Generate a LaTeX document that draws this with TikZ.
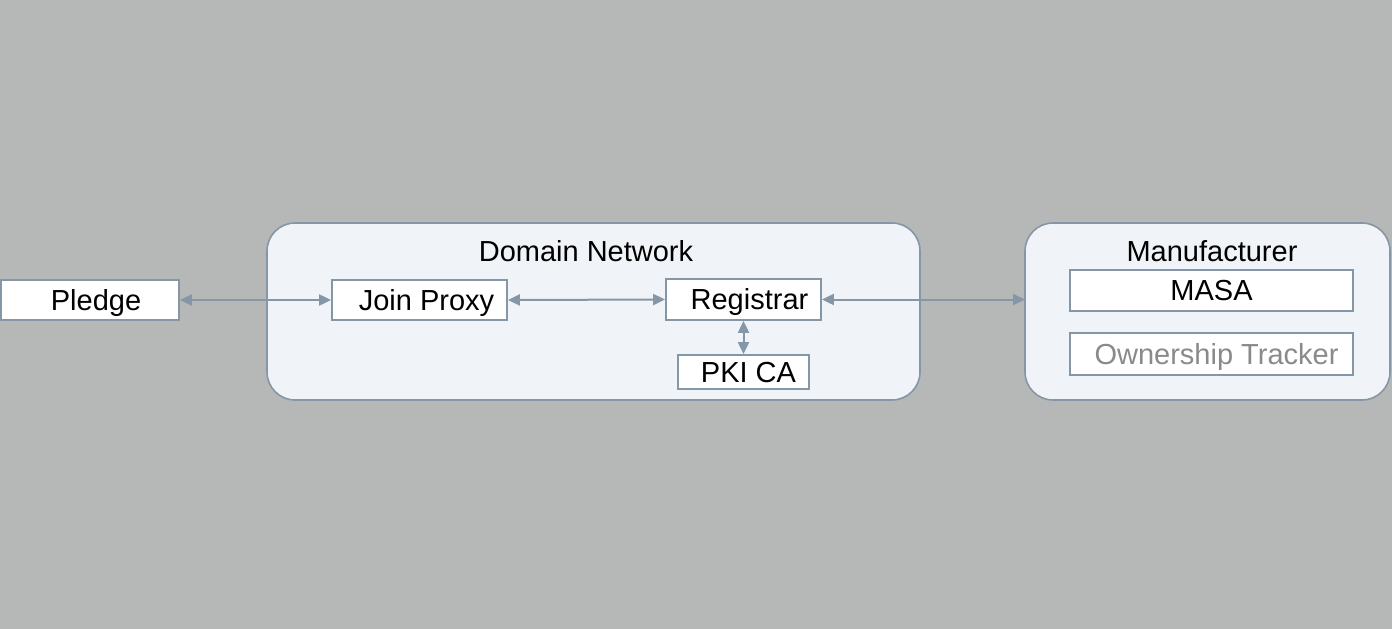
\documentclass[tikz,border=0pt]{standalone}
\usepackage{fontspec}
\setmainfont{Liberation Sans}
\usetikzlibrary{arrows.meta}
\definecolor{bggray}{HTML}{B6B8B7}
\definecolor{panelfill}{HTML}{F0F4F8}
\definecolor{edgeblue}{HTML}{8596A6}
\definecolor{dimtext}{HTML}{8A8A8A}
\tikzset{
  panel/.style={draw=edgeblue, line width=1.6pt, fill=panelfill, rounded corners=28pt},
  unit/.style={draw=edgeblue, line width=1.8pt, fill=white, inner sep=0pt,
    text height=24pt, text depth=4pt, font=\fontsize{29}{33}\selectfont},
  title/.style={font=\fontsize{29}{33}\selectfont, inner sep=0pt},
  link/.style={draw=edgeblue, line width=2pt, {Triangle[length=12pt,width=11pt]}-{Triangle[length=12pt,width=11pt]}}
}
\begin{document}
\begin{tikzpicture}[x=1pt,y=-1pt]

\useasboundingbox[fill=bggray] (0,0) rectangle (1392,629);

% panels
\draw[panel] (267,223) rectangle (920,400);
\draw[panel] (1025,223) rectangle (1390,400);

\node[title] (domain) at (586,251) {Domain Network};
\node[title] (maker) at (1212,251) {Manufacturer};

% boxes
\node[unit, minimum width=178pt, minimum height=40pt] (pledge) at (90,300) {\hspace*{12pt}Pledge};
\node[unit, minimum width=175pt, minimum height=40pt] (proxy) at (419.5,300) {\hspace*{14pt}Join Proxy};
\node[unit, minimum width=155pt, minimum height=41pt] (registrar) at (743.5,299.5) {\hspace*{12pt}Registrar};
\node[unit, minimum width=131pt, minimum height=34pt] (pkica) at (743.5,372) {\hspace*{10pt}PKI CA};
\node[unit, minimum width=283pt, minimum height=41pt] (masa) at (1211.5,290.5) {MASA};
\node[unit, minimum width=283pt, minimum height=42pt, text=dimtext] (tracker) at (1211.5,354) {\hspace*{10pt}Ownership Tracker};

% links
\draw[link] (pledge.east) -- (proxy.west);
\draw[link] (proxy.east) -- (registrar.west);
\draw[link] (registrar.south) -- (pkica.north);
\coordinate (makerin) at (1025,299.5);
\draw[link] (registrar.east) -- (makerin);

\end{tikzpicture}
\end{document}
